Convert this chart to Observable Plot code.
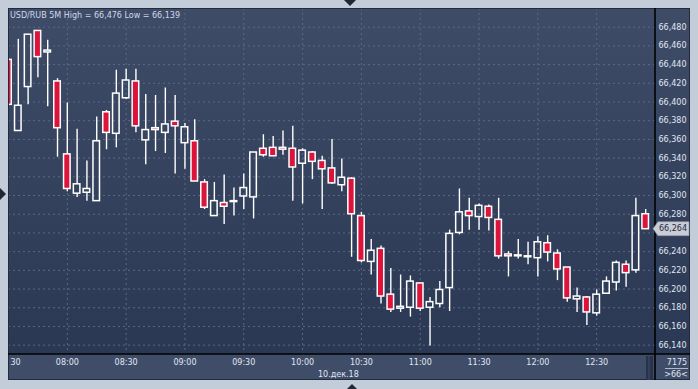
<!DOCTYPE html>
<html><head><meta charset="utf-8">
<script src="https://cdn.jsdelivr.net/npm/d3@7"></script>
<script src="https://cdn.jsdelivr.net/npm/@observablehq/plot@0.6"></script>
<style>
html,body{margin:0;padding:0;}
body{width:698px;height:389px;background:#c3cdda;position:relative;overflow:hidden;font-family:"DejaVu Sans",sans-serif;}
#panel{position:absolute;left:8px;top:8px;width:682px;height:372px;overflow:hidden;
  background:linear-gradient(to bottom,#3f4c68 0px,#2b3853 346px,#3f4d68 346px,#3f4d68 372px);}
#panel svg{position:absolute;left:0;top:0;}
#overlay{position:absolute;left:0;top:0;pointer-events:none;}
</style></head>
<body>
<div id="panel"></div>
<script>
const titleText = "USD/RUB 5M High = 66,476 Low = 66,139";
const dayLabel = "10.дек.18";
const day = "2018-12-10";
const times = ["07:30","07:35","07:40","07:45","07:50","07:55",
"08:00","08:05","08:10","08:15","08:20","08:25","08:30","08:35","08:40","08:45","08:50","08:55",
"09:00","09:05","09:10","09:15","09:20","09:25","09:30","09:35","09:40","09:45","09:50","09:55",
"10:00","10:05","10:10","10:15","10:20","10:25","10:30","10:35","10:40","10:45","10:50","10:55",
"11:00","11:05","11:10","11:15","11:20","11:25","11:30","11:35","11:40","11:45","11:50","11:55",
"12:00","12:05","12:10","12:15","12:20","12:25","12:30","12:35","12:40","12:45","12:50","12:55"];
const open = [66.445,66.369,66.416,66.476,66.453,66.422,66.344,66.302,66.303,66.294,
66.389,66.366,66.404,66.422,66.359,66.372,66.367,66.379,66.356,66.358,
66.314,66.278,66.292,66.293,66.299,66.298,66.350,66.351,66.351,66.350,
66.334,66.346,66.337,66.329,66.311,66.318,66.278,66.229,66.243,66.194,
66.179,66.180,66.206,66.180,66.184,66.201,66.260,66.283,66.277,66.288,
66.274,66.237,66.235,66.234,66.233,66.249,66.238,66.223,66.189,66.191,
66.174,66.195,66.207,66.226,66.220,66.280];
const high = [66.446,66.467,66.472,66.476,66.466,66.425,66.399,66.371,66.337,66.384,
66.391,66.434,66.435,66.435,66.408,66.407,66.415,66.407,66.377,66.381,
66.317,66.314,66.322,66.308,66.323,66.346,66.365,66.363,66.369,66.374,
66.350,66.347,66.342,66.360,66.339,66.319,66.282,66.253,66.246,66.222,
66.215,66.214,66.206,66.191,66.208,66.263,66.307,66.297,66.291,66.290,
66.297,66.240,66.253,66.250,66.256,66.257,66.242,66.223,66.201,66.192,
66.199,66.213,66.230,66.230,66.297,66.285];
const low = [66.396,66.369,66.397,66.426,66.395,66.341,66.304,66.298,66.294,66.294,
66.349,66.351,66.403,66.367,66.333,66.347,66.345,66.323,66.328,66.315,
66.285,66.278,66.269,66.278,66.285,66.275,66.341,66.342,66.343,66.294,
66.291,66.317,66.285,66.312,66.304,66.234,66.228,66.215,66.184,66.175,
66.175,66.170,66.176,66.139,66.180,66.176,66.258,66.263,66.263,66.262,
66.232,66.213,66.232,66.226,66.213,66.229,66.209,66.186,66.175,66.161,
66.171,66.195,66.198,66.202,66.217,66.264];
const close = [66.397,66.396,66.472,66.448,66.455,66.372,66.307,66.312,66.307,66.358,
66.367,66.409,66.423,66.374,66.370,66.370,66.376,66.374,66.373,66.315,
66.287,66.294,66.288,66.294,66.308,66.346,66.343,66.342,66.349,66.330,
66.348,66.336,66.328,66.313,66.319,66.280,66.230,66.241,66.192,66.178,
66.181,66.208,66.179,66.186,66.199,66.259,66.282,66.278,66.289,66.276,
66.235,66.235,66.236,66.235,66.250,66.239,66.221,66.190,66.192,66.175,
66.194,66.208,66.228,66.217,66.278,66.264];
const yTicks = [66.14,66.16,66.18,66.20,66.22,66.24,66.26,66.28,66.30,66.32,66.34,66.36,66.38,66.40,66.42,66.44,66.46,66.48];
const xTicks = ["08:00","08:30","09:00","09:30","10:00","10:30","11:00","11:30","12:00","12:30"];
const firstTickLabel = "30"; // the partly hidden 07:30 label at the left edge
const lastPrice = 66.264;
const barCount = "7175";
const visibleCount = ">66<";

const toDate = s => new Date(`${day}T${s}:00Z`);
const data = times.map((t, i) => ({date: toDate(t), open: open[i], high: high[i], low: low[i], close: close[i]}));
const fmtNum = d => d3.format(".3f")(d).replace(".", ",");
const half = 100e3;
const red = "#dc143c";
const grid = {stroke: "#5b6985", strokeOpacity: 1, strokeDasharray: "2,3", strokeWidth: 1};
// the tick label hidden under the last-price marker
const yLabelTicks = yTicks.filter(v => Math.abs(v - lastPrice) > 0.008);

const chart = Plot.plot({
  width: 682, height: 372,
  marginLeft: 0, marginRight: 35, marginTop: 0, marginBottom: 26,
  style: {background: "transparent", color: "#e0e7f4", fontFamily: "'DejaVu Sans', sans-serif", fontSize: "8px"},
  x: {type: "utc", domain: [toDate("07:30"), toDate("13:00")]},
  y: {domain: [66.13, 66.5]},
  marks: [
    Plot.gridY(yTicks, grid),
    Plot.gridX(xTicks.map(toDate), grid),
    Plot.axisY(yLabelTicks, {anchor: "right", tickSize: 0, tickPadding: 3, tickFormat: fmtNum, label: null}),
    Plot.axisX(xTicks.map(toDate), {anchor: "bottom", tickSize: 0, tickPadding: 5, tickFormat: d3.utcFormat("%H:%M"), label: null}),
    Plot.text([firstTickLabel], {frameAnchor: "bottom-left", dx: 2, dy: 5, lineAnchor: "top", textAnchor: "start", fill: "#e0e7f4"}),
    Plot.ruleX(data, {x: "date", y1: d => Math.max(d.open, d.close), y2: "high", stroke: "white", strokeWidth: 1.4}),
    Plot.ruleX(data, {x: "date", y1: "low", y2: d => Math.min(d.open, d.close), stroke: "white", strokeWidth: 1.4}),
    Plot.rect(data, {filter: d => d.close < d.open, x1: d => new Date(+d.date - half), x2: d => new Date(+d.date + half),
      y1: "open", y2: "close", fill: red, stroke: "white", strokeWidth: 1.5}),
    Plot.rect(data, {filter: d => d.close >= d.open, x1: d => new Date(+d.date - half), x2: d => new Date(+d.date + half),
      y1: "open", y2: "close", fill: "none", stroke: "white", strokeWidth: 1.5})
  ]
});
document.getElementById("panel").appendChild(chart);

// overlay: frame, separators, labels
const ys = chart.scale("y");
const ov = d3.create("svg").attr("id", "overlay").attr("width", 698).attr("height", 389)
  .style("font-family", "'DejaVu Sans', sans-serif").style("font-size", "8px");
ov.append("rect").attr("x", 8.5).attr("y", 8.5).attr("width", 681).attr("height", 371)
  .attr("fill", "none").attr("stroke", "#222b3b").attr("stroke-width", 1);
ov.append("rect").attr("x", 646).attr("y", 356).attr("width", 7).attr("height", 24).attr("fill", "#28324a");
ov.append("rect").attr("x", 648).attr("y", 356).attr("width", 2).attr("height", 24).attr("fill", "#34405a");
ov.append("line").attr("x1", 655).attr("x2", 655).attr("y1", 8).attr("y2", 380).attr("stroke", "#000").attr("stroke-width", 1.6);
ov.append("line").attr("x1", 8).attr("x2", 690).attr("y1", 354).attr("y2", 354).attr("stroke", "#000").attr("stroke-width", 1.6);
ov.append("text").attr("x", 10).attr("y", 18.3).attr("fill", "#cfd8ea").text(titleText);
ov.append("text").attr("x", 318).attr("y", 376.5).attr("fill", "#e0e7f4").text(dayLabel);
ov.append("text").attr("x", 677).attr("y", 365).attr("text-anchor", "middle").attr("fill", "#e0e7f4").text(barCount);
ov.append("line").attr("x1", 665).attr("x2", 688).attr("y1", 368.5).attr("y2", 368.5).attr("stroke", "#aeb9cc").attr("stroke-width", 1);
ov.append("text").attr("x", 676).attr("y", 377).attr("text-anchor", "middle").attr("fill", "#e0e7f4").text(visibleCount);
const py = ys.apply(lastPrice) + 8;
ov.append("path").attr("d", `M653,${py} L658,${py - 7} L689,${py - 7} L689,${py + 7} L658,${py + 7} Z`)
  .attr("fill", "#c9cdd5").attr("stroke", "#8e98aa").attr("stroke-width", 0.6);
ov.append("text").attr("x", 659).attr("y", py).attr("dy", "0.35em").attr("fill", "#1f2a44").text(fmtNum(lastPrice));
ov.append("path").attr("d", "M344,0 L356,0 L350,6 Z").attr("fill", "#1e2736");
ov.append("path").attr("d", "M0,188 L6,194 L0,200 Z").attr("fill", "#1e2736");
ov.append("path").attr("d", "M347,389 L357,389 L352,384 Z").attr("fill", "#1e2736");
document.body.appendChild(ov.node());
</script>
</body></html>
